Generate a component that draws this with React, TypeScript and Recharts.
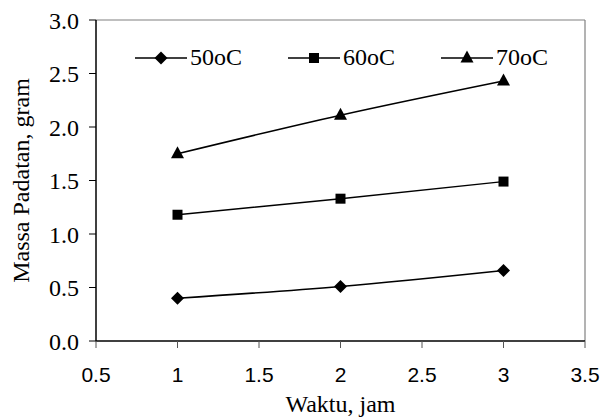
import React from 'react';
import { LineChart, Line, XAxis, YAxis, ReferenceLine, Label } from 'recharts';

const HOURS = [1, 2, 3];
const MASS_50 = [0.4, 0.51, 0.66];
const MASS_60 = [1.18, 1.33, 1.49];
const MASS_70 = [1.75, 2.11, 2.43];

const X_TICKS = [0.5, 1, 1.5, 2, 2.5, 3, 3.5];
const Y_TICKS = [0, 0.5, 1, 1.5, 2, 2.5, 3];

const SERIES = [
  { key: 't50', name: '50oC', shape: 'diamond' },
  { key: 't60', name: '60oC', shape: 'square' },
  { key: 't70', name: '70oC', shape: 'triangle' },
];

const data = HOURS.map((h, i) => ({ x: h, t50: MASS_50[i], t60: MASS_60[i], t70: MASS_70[i] }));

const SERIF = '"Liberation Serif", "Times New Roman", serif';
const SANS = '"Liberation Sans", Arial, sans-serif';

const markerPath = (shape: string, cx: number, cy: number) => {
  if (shape === 'diamond') return `M${cx},${cy - 6.5}L${cx + 6.5},${cy}L${cx},${cy + 6.5}L${cx - 6.5},${cy}Z`;
  if (shape === 'square') return `M${cx - 5},${cy - 5}h10v10h-10Z`;
  return `M${cx},${cy - 7.5}L${cx + 6.5},${cy + 4.5}L${cx - 6.5},${cy + 4.5}Z`;
};

const makeDot = (shape: string) => (props: any) => {
  const { cx, cy, index } = props;
  if (cx == null || cy == null) return <g key={`${shape}-${index}`} />;
  return <path key={`${shape}-${index}`} d={markerPath(shape, cx, cy)} fill="#000" stroke="none" />;
};

const ChartLegend = () => (
  <div
    style={{
      position: 'absolute',
      top: 44,
      left: 135,
      display: 'flex',
      alignItems: 'center',
      gap: 46,
      fontFamily: SERIF,
      fontSize: 24,
      color: '#000',
    }}
  >
    {SERIES.map((s) => (
      <div key={s.key} style={{ display: 'flex', alignItems: 'center' }}>
        <svg width={52} height={20}>
          <line x1={0} y1={10} x2={52} y2={10} stroke="#000" strokeWidth={1.5} />
          <path d={markerPath(s.shape, 26, 10)} fill="#000" />
        </svg>
        <span style={{ marginLeft: 3 }}>{s.name}</span>
      </div>
    ))}
  </div>
);

export default function App() {
  return (
    <div style={{ position: 'absolute', left: 0, top: 0, width: 603, height: 420, background: '#fff' }}>
      <LineChart width={603} height={420} data={data} margin={{ top: 20, right: 18, left: 0, bottom: 0 }}>
        <XAxis
          dataKey="x"
          type="number"
          domain={[0.5, 3.5]}
          ticks={X_TICKS}
          height={79}
          tickSize={7}
          tickMargin={19}
          axisLine={{ stroke: '#000', strokeWidth: 1.5 }}
          tickLine={{ stroke: '#555' }}
          tick={{ fill: '#000', fontSize: 21, fontFamily: SANS }}
        >
          <Label
            content={({ viewBox }: any) => (
              <text
                x={viewBox.x + viewBox.width / 2}
                y={412}
                textAnchor="middle"
                fontFamily={SERIF}
                fontSize={24}
                fill="#000"
              >
                Waktu, jam
              </text>
            )}
          />
        </XAxis>
        <YAxis
          type="number"
          domain={[0, 3]}
          ticks={Y_TICKS}
          width={96}
          tickSize={7}
          tickMargin={10}
          tickFormatter={(v: number) => v.toFixed(1)}
          axisLine={{ stroke: '#000', strokeWidth: 1.5 }}
          tickLine={{ stroke: '#000' }}
          tick={{ fill: '#000', fontSize: 24, fontFamily: SERIF }}
        >
          <Label
            content={({ viewBox }: any) => {
              const cy = viewBox.y + viewBox.height / 2;
              return (
                <text
                  x={29}
                  y={cy}
                  textAnchor="middle"
                  transform={`rotate(-90, 29, ${cy})`}
                  fontFamily={SERIF}
                  fontSize={24}
                  fill="#000"
                >
                  Massa Padatan, gram
                </text>
              );
            }}
          />
        </YAxis>
        <ReferenceLine y={3} stroke="#808080" strokeWidth={1.2} />
        <ReferenceLine x={3.5} stroke="#808080" strokeWidth={1.2} />
        {SERIES.map((s) => (
          <Line
            key={s.key}
            dataKey={s.key}
            name={s.name}
            type="monotone"
            stroke="#000"
            strokeWidth={1.5}
            dot={makeDot(s.shape)}
            activeDot={false}
            isAnimationActive={false}
          />
        ))}
      </LineChart>
      <ChartLegend />
    </div>
  );
}
